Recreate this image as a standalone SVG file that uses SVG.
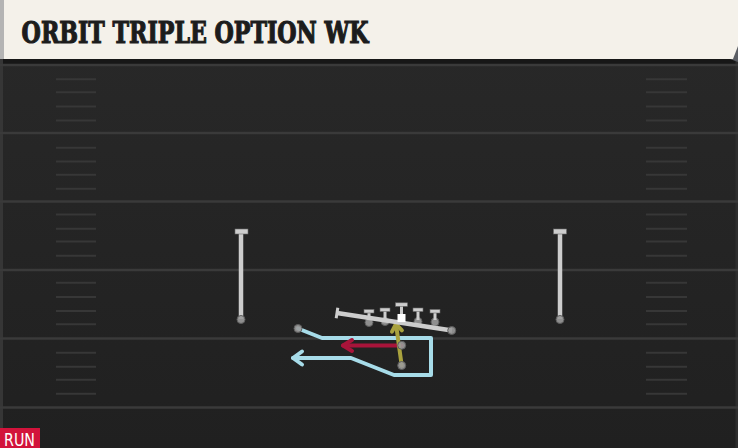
<svg xmlns="http://www.w3.org/2000/svg" width="738" height="448" viewBox="0 0 738 448">
<defs>
<linearGradient id="fieldGrad" x1="0" y1="0" x2="0" y2="1">
<stop offset="0" stop-color="#292929"/>
<stop offset="1" stop-color="#202020"/>
</linearGradient>
<marker id="arrBlue" markerUnits="userSpaceOnUse" markerWidth="20" markerHeight="20" refX="0" refY="0" viewBox="-12 -10 16 20" orient="auto">
<path d="M-9,-6.5 L0,0 L-9,6.5" fill="none" stroke="#A7DCE9" stroke-width="4" stroke-linecap="round" stroke-linejoin="round"/>
</marker>
<marker id="arrRed" markerUnits="userSpaceOnUse" markerWidth="20" markerHeight="20" refX="0" refY="0" viewBox="-12 -10 16 20" orient="auto">
<path d="M-9,-5.5 L0,0 L-9,5.5" fill="none" stroke="#A8143A" stroke-width="4" stroke-linecap="round" stroke-linejoin="round"/>
</marker>
<marker id="arrYellow" markerUnits="userSpaceOnUse" markerWidth="20" markerHeight="20" refX="0" refY="0" viewBox="-12 -10 16 20" orient="auto">
<path d="M-7,-5 L0,0 L-7,5" fill="none" stroke="#A9A23E" stroke-width="4" stroke-linecap="round" stroke-linejoin="round"/>
</marker>
</defs>
<style>
.yard{stroke:#3a3a3a;stroke-width:2.5}
.hash{stroke:#373737;stroke-width:2}
.blk{stroke:#cdcdcd;stroke-width:4.5;fill:none;stroke-linecap:butt}
.stem{stroke:#cdcdcd;stroke-width:3;fill:none}
.tbar{fill:#cdcdcd;stroke:#6a6a6a;stroke-width:0.6}
.player{fill:#9a9a9a;stroke:#5c5c5c;stroke-width:1;fill-opacity:0.9}
.route{fill:none;stroke-width:4;stroke-linejoin:round;stroke-linecap:round}
</style>

<!-- background -->
<rect x="0" y="0" width="738" height="448" fill="url(#fieldGrad)"/>
<rect x="0" y="59" width="738" height="6" fill="#171717"/>
<rect x="0" y="59" width="3" height="389" fill="#363636"/>
<rect x="735.5" y="59" width="2.5" height="389" fill="#2e2e2e"/>

<!-- yard lines -->
<g id="yardlines">
<line class="yard" x1="0" y1="65" x2="738" y2="65"/>
<line class="yard" x1="0" y1="133" x2="738" y2="133"/>
<line class="yard" x1="0" y1="201.5" x2="738" y2="201.5"/>
<line class="yard" x1="0" y1="270" x2="738" y2="270"/>
<line class="yard" x1="0" y1="338.5" x2="738" y2="338.5"/>
<line class="yard" x1="0" y1="407.5" x2="738" y2="407.5"/>
</g>
<g id="hashes">
<path class="hash" d="M56,79.3H96M56,92.3H96M56,106.5H96M56,120.5H96M56,147.7H96M56,161.5H96M56,174.8H96M56,188.7H96M56,214.5H96M56,228.7H96M56,241.5H96M56,255.7H96M56,282.7H96M56,297H96M56,311H96M56,324.3H96M56,352.7H96M56,366.7H96M56,379.8H96M56,393.8H96"/>
<path class="hash" d="M646,79.3H687M646,92.3H687M646,106.5H687M646,120.5H687M646,147.7H687M646,161.5H687M646,174.8H687M646,188.7H687M646,214.5H687M646,228.7H687M646,241.5H687M646,255.7H687M646,282.7H687M646,297H687M646,311H687M646,324.3H687M646,352.7H687M646,366.7H687M646,379.8H687M646,393.8H687"/>
</g>

<!-- header -->
<g id="header">
<polygon points="730,59 738,44 738,62" fill="#5a5d63"/>
<polygon points="4,0 738,0 738,46 733,59 4,59" fill="#F4F1EA"/>
<rect x="0" y="0" width="4" height="59" fill="#b4b4b4"/>
<text x="21.6" y="42.7" font-family="'DejaVu Serif', 'Liberation Serif', serif" font-weight="bold" font-size="29" fill="#1c1c1c" stroke="#1c1c1c" stroke-width="1.2" stroke-linejoin="miter" textLength="347" lengthAdjust="spacingAndGlyphs">ORBIT TRIPLE OPTION WK</text>
</g>

<!-- connectors / routes -->
<g id="connectors">
<line class="blk" x1="241" y1="319" x2="241" y2="232"/>
<rect class="tbar" x="235" y="229" width="13" height="5"/>
<line class="blk" x1="560" y1="319" x2="560" y2="232"/>
<rect class="tbar" x="553.5" y="229" width="13" height="5"/>
<path class="route" stroke="#A7DCE9" d="M298,328.5 L322,338 L431,338 L431,375 L394,375 L351,358 L293,358" marker-end="url(#arrBlue)"/>
<path class="route" stroke="#A8143A" d="M401.5,345.5 L343,345.5" marker-end="url(#arrRed)"/>
<path class="route" stroke="#A9A23E" d="M401.7,365.5 L396,324" marker-end="url(#arrYellow)"/>
</g>

<!-- offensive line -->
<g id="ol-lt"><circle class="player" cx="369" cy="322.5" r="4"/></g>
<g id="ol-lg"><circle class="player" cx="385" cy="321.5" r="4"/></g>
<g id="ol-rg"><circle class="player" cx="418" cy="321.5" r="4"/></g>
<g id="ol-rt"><circle class="player" cx="435" cy="322" r="4"/></g>
<g id="te">
<line class="blk" x1="452" y1="330.5" x2="337" y2="313" stroke-width="3.5"/>
<line x1="337.8" y1="307.8" x2="336.2" y2="318.2" stroke="#cdcdcd" stroke-width="3"/>
<circle class="player" cx="451.7" cy="330.5" r="4"/>
</g>
<g id="ol-blocks">
<line class="stem" x1="369" y1="320" x2="369" y2="311"/>
<rect class="tbar" x="364" y="309.5" width="10" height="3.5"/>
<line class="stem" x1="385" y1="320" x2="385" y2="310"/>
<rect class="tbar" x="380" y="308" width="10" height="3.5"/>
<line class="stem" x1="401.5" y1="316" x2="401.5" y2="305"/>
<rect class="tbar" x="395.5" y="302.8" width="12" height="3.5"/>
<line class="stem" x1="418" y1="320" x2="418" y2="310"/>
<rect class="tbar" x="413" y="308" width="10" height="3.5"/>
<line class="stem" x1="435" y1="320" x2="435" y2="311"/>
<rect class="tbar" x="430" y="309.5" width="10" height="3.5"/>
</g>
<g id="center"><rect x="397.5" y="314" width="8" height="8" fill="#ffffff"/></g>

<!-- skill players -->
<g id="wr-left"><circle class="player" cx="241" cy="319.5" r="4"/></g>
<g id="wr-right"><circle class="player" cx="560" cy="319.5" r="4"/></g>
<g id="wing"><circle class="player" cx="298" cy="328.5" r="4"/></g>
<g id="qb"><circle class="player" cx="401.7" cy="345.3" r="4" fill-opacity="0.75"/></g>
<g id="rb"><circle class="player" cx="401.7" cy="365.5" r="4"/></g>

<!-- tag -->
<g id="run-tag">
<rect x="0" y="428" width="40" height="20" fill="#D2133B"/>
<text x="4" y="445.5" font-family="'Liberation Sans Narrow', 'DejaVu Sans Condensed', 'Liberation Sans', sans-serif" font-size="17" fill="#ffffff" textLength="31" lengthAdjust="spacingAndGlyphs">RUN</text>
</g>
</svg>
